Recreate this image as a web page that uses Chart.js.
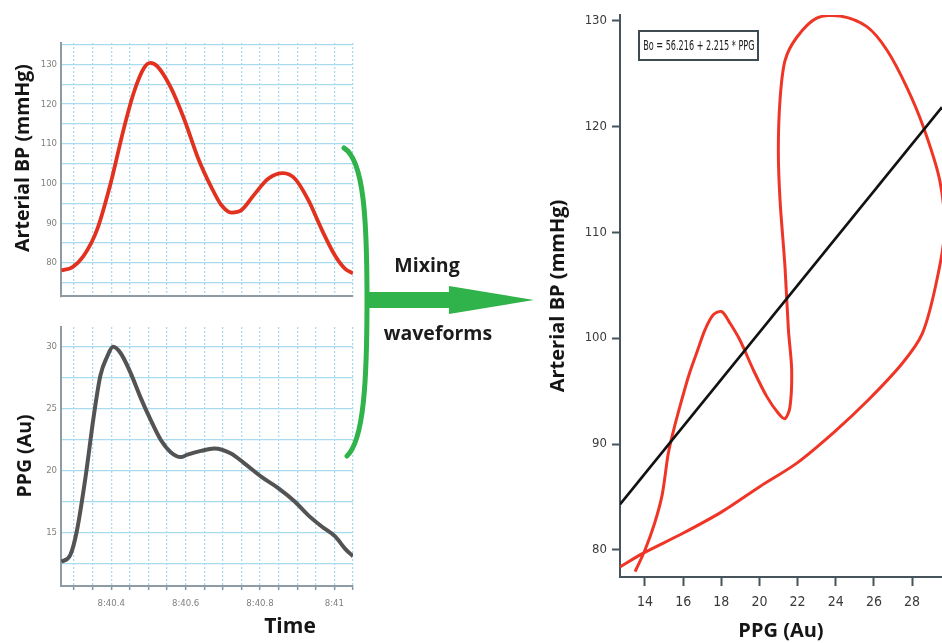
<!DOCTYPE html>
<html><head><meta charset="utf-8">
<script src="https://cdn.jsdelivr.net/npm/chart.js@4.4.1/dist/chart.umd.min.js"></script>
<style>
html,body{margin:0;padding:0;background:#fff;}
#stage{position:relative;width:942px;height:643px;overflow:hidden;background:#fff;}
canvas{position:absolute;}
.t{position:absolute;font-family:'Open Sans',sans-serif;font-weight:700;color:#151515;white-space:nowrap;line-height:1;}
.rot{transform:translate(-50%,-50%) rotate(-90deg);}
.ctr{transform:translate(-50%,-50%);}
#eq{position:absolute;left:638px;top:30px;width:117px;height:27px;border:2px solid #3e4b50;font-family:'Liberation Sans Narrow','DejaVu Sans Condensed','Arial Narrow',sans-serif;font-size:11px;color:#222;display:flex;align-items:center;justify-content:center;white-space:nowrap;overflow:visible;}
#eq span{display:inline-block;transform:scale(0.82,1.35);}
</style></head><body>
<div id="stage">
<canvas id="cBP" width="362" height="276" style="left:0;top:30px"></canvas>
<canvas id="cPPG" width="362" height="333" style="left:0;top:310px"></canvas>
<canvas id="cLoop" width="402" height="643" style="left:540px;top:0"></canvas>
<svg width="942" height="643" style="position:absolute;left:0;top:0">
  <path d="M 344 148 C 364 160, 367 220, 367 300 C 367 380, 364 440, 347 456" fill="none" stroke="#2fb34a" stroke-width="5" stroke-linecap="round"/>
  <polygon points="367,292 449,292 449,286 534,300 449,314 449,308 367,308" fill="#2fb34a"/>
</svg>
<div class="t rot" style="left:22px;top:158px;font-size:19.5px;">Arterial BP (mmHg)</div>
<div class="t rot" style="left:24px;top:456px;font-size:19.5px;">PPG (Au)</div>
<div class="t ctr" style="left:290px;top:625px;font-size:21px;">Time</div>
<div class="t ctr" style="left:427px;top:265px;font-size:19.5px;color:#1c1c1c;">Mixing</div>
<div class="t ctr" style="left:438px;top:333px;font-size:19.5px;color:#1c1c1c;">waveforms</div>
<div id="eq"><span>Bo = 56.216 + 2.215 * PPG</span></div>
</div>
<script>
// ---- Data ----
const timeBP = [40.266, 40.295, 40.326, 40.362, 40.398, 40.434, 40.461, 40.488, 40.505, 40.524, 40.56, 40.597, 40.633, 40.669, 40.696, 40.723, 40.75, 40.786, 40.822, 40.862, 40.894, 40.93, 40.966, 41.002, 41.029, 41.05];
const bpValues = [78.1, 78.9, 81.8, 88.4, 99.9, 113.9, 123.0, 129.1, 130.4, 129.5, 124.2, 116.0, 106.5, 99.1, 94.6, 92.7, 93.3, 97.4, 101.2, 102.6, 101.2, 95.8, 88.4, 81.8, 78.5, 77.4];

const timePPG = [40.266, 40.29, 40.308, 40.331, 40.353, 40.371, 40.389, 40.405, 40.425, 40.452, 40.479, 40.506, 40.533, 40.56, 40.587, 40.605, 40.641, 40.677, 40.722, 40.758, 40.804, 40.849, 40.894, 40.93, 40.966, 41.002, 41.029, 41.05];
const ppgValues = [12.65, 13.2, 15.2, 19.5, 24.4, 27.7, 29.2, 30.0, 29.5, 27.9, 25.9, 24.1, 22.5, 21.5, 21.1, 21.3, 21.6, 21.8, 21.4, 20.6, 19.5, 18.6, 17.5, 16.4, 15.5, 14.7, 13.7, 13.1];

const loopPPG = [12.69, 13.91, 16.01, 18.02, 20.03, 21.96, 23.96, 25.73, 27.48, 28.53, 29.22, 29.7, 29.45, 28.6, 27.72, 26.68, 25.63, 24.23, 23.0, 21.96, 21.34, 21.08, 20.99, 21.08, 21.34, 21.52, 21.69, 21.6, 21.34, 20.99, 20.38, 19.68, 18.98, 18.46, 18.02, 17.58, 17.15, 16.75, 16.3, 15.9, 15.5, 15.22, 14.9, 14.5, 14.0, 13.48];
const loopBP = [78.4, 79.7, 81.6, 83.6, 86.0, 88.2, 91.2, 94.2, 97.6, 100.4, 104.8, 110.0, 114.9, 119.9, 123.7, 127.2, 129.4, 130.4, 130.2, 128.4, 126.2, 122.5, 117.7, 113.0, 106.7, 100.75, 97.0, 93.5, 92.4, 92.9, 94.5, 97.0, 99.8, 101.4, 102.5, 102.2, 100.8, 98.8, 96.5, 94.0, 91.3, 89.1, 85.2, 82.5, 80.0, 77.95];

const fitPPG = [12.69, 29.57];
const fitBP = [84.3, 121.8];

// tick labels / grid positions
const timeGrid = [40.3, 40.35, 40.4, 40.45, 40.5, 40.55, 40.6, 40.65, 40.7, 40.75, 40.8, 40.85, 40.9, 40.95, 41.0, 41.05];
const timeTickValues = [40.4, 40.6, 40.8, 41.0];
const timeTickLabels = ['8:40.4', '8:40.6', '8:40.8', '8:41'];
const bpGrid = [75, 80, 85, 90, 95, 100, 105, 110, 115, 120, 125, 130, 135];
const bpTickValues = [80, 90, 100, 110, 120, 130];
const bpTickLabels = ['80', '90', '100', '110', '120', '130'];
const ppgGrid = [12.5, 15, 17.5, 20, 22.5, 25, 27.5, 30];
const ppgTickValues = [15, 20, 25, 30];
const ppgTickLabels = ['15', '20', '25', '30'];
const loopXTicks = [14, 16, 18, 20, 22, 24, 26, 28];
const loopXLabels = ['14', '16', '18', '20', '22', '24', '26', '28'];
const loopYTicks = [80, 90, 100, 110, 120, 130];
const loopYLabels = ['80', '90', '100', '110', '120', '130'];

// ---- helpers ----
const NARROW = "'Liberation Sans Narrow','DejaVu Sans Condensed','Arial Narrow',sans-serif";
const pts = (xs, ys) => xs.map((x, i) => ({x: x, y: ys[i]}));
const setTicks = arr => s => { s.ticks = arr.map(v => ({value: v})); };
const labelFrom = (vals, labels) => v => {
  const i = vals.findIndex(a => Math.abs(a - v) < 1e-6);
  return i >= 0 ? labels[i] : '';
};
const GRID = '#a9dbee';
const AXIS = '#8d9ca4';
const common = {
  responsive: false, animation: false, events: [], devicePixelRatio: 1,
  plugins: {legend: {display: false}, tooltip: {enabled: false}}
};

// ---- Arterial BP waveform ----
new Chart(document.getElementById('cBP'), {
  type: 'line',
  data: {datasets: [{data: pts(timeBP, bpValues), borderColor: '#e2321f', borderWidth: 3.8,
    pointRadius: 0, cubicInterpolationMode: 'monotone', fill: false}]},
  options: Object.assign({}, common, {
    layout: {padding: {left: 0, top: 13, right: 9, bottom: 0}},
    scales: {
      x: {type: 'linear', min: 40.265, max: 41.05, afterBuildTicks: setTicks(timeGrid),
        afterFit: s => { s.height = 5; },
        ticks: {display: false},
        grid: {color: GRID, lineWidth: 1.3, drawTicks: false},
        border: {display: true, color: AXIS, width: 2, dash: [2, 2]}},
      y: {type: 'linear', min: 71.6, max: 135.4, afterBuildTicks: setTicks(bpGrid),
        afterFit: s => { s.width = 61; },
        ticks: {callback: labelFrom(bpTickValues, bpTickLabels), color: '#808080', padding: 4,
          font: {family: NARROW, size: 9.5}},
        grid: {color: GRID, lineWidth: 1.3, drawTicks: false},
        border: {display: true, color: AXIS, width: 2}}
    }
  })
});

// ---- PPG waveform ----
new Chart(document.getElementById('cPPG'), {
  type: 'line',
  data: {datasets: [{data: pts(timePPG, ppgValues), borderColor: '#535353', borderWidth: 4,
    pointRadius: 0, cubicInterpolationMode: 'monotone', fill: false}]},
  options: Object.assign({}, common, {
    layout: {padding: {left: 0, top: 17, right: 9, bottom: 0}},
    scales: {
      x: {type: 'linear', min: 40.265, max: 41.05, afterBuildTicks: setTicks(timeGrid),
        afterFit: s => { s.height = 57; },
        ticks: {callback: labelFrom(timeTickValues, timeTickLabels), color: '#808080', padding: 8,
          maxRotation: 0, autoSkip: false, font: {family: NARROW, size: 9.5}},
        grid: {color: GRID, lineWidth: 1.3, drawTicks: true, tickLength: 4, tickColor: '#7f98a6', tickWidth: 1.5},
        border: {display: true, color: AXIS, width: 2, dash: [2, 2]}},
      y: {type: 'linear', min: 10.7, max: 31.6, afterBuildTicks: setTicks(ppgGrid),
        afterFit: s => { s.width = 61; },
        ticks: {callback: labelFrom(ppgTickValues, ppgTickLabels), color: '#808080', padding: 4,
          font: {family: NARROW, size: 9.5}},
        grid: {color: GRID, lineWidth: 1.3, drawTicks: false},
        border: {display: true, color: AXIS, width: 2}}
    }
  })
});

// ---- BP vs PPG loop with linear fit ----
const AX2 = '#46555b';
new Chart(document.getElementById('cLoop'), {
  type: 'scatter',
  data: {datasets: [
    {data: pts(fitPPG, fitBP), showLine: true, borderColor: '#121212', borderWidth: 2.6, pointRadius: 0, tension: 0},
    {data: pts(loopPPG, loopBP), showLine: true, borderColor: '#ef3526', borderWidth: 3, pointRadius: 0, tension: 0.3}
  ]},
  options: Object.assign({}, common, {
    layout: {padding: {left: 0, top: 15, right: 0, bottom: 0}},
    scales: {
      x: {type: 'linear', min: 12.69, max: 29.57, afterBuildTicks: setTicks(loopXTicks),
        afterFit: s => { s.height = 66; },
        ticks: {callback: labelFrom(loopXTicks, loopXLabels), color: '#3a3a3a', padding: 8,
          maxRotation: 0, autoSkip: false, font: {family: NARROW, size: 14}},
        grid: {drawOnChartArea: false, drawTicks: true, tickLength: 9, tickColor: AX2, tickWidth: 2},
        border: {display: true, color: AX2, width: 2},
        title: {display: true, text: 'PPG (Au)', color: '#151515', padding: {top: 0, bottom: 0},
          font: {family: "'Open Sans',sans-serif", size: 20, weight: 'bold'}}},
      y: {type: 'linear', min: 77.45, max: 130.5, afterBuildTicks: setTicks(loopYTicks),
        afterFit: s => { s.width = 80; },
        ticks: {callback: labelFrom(loopYTicks, loopYLabels), color: '#3a3a3a', padding: 5,
          font: {family: NARROW, size: 13}},
        grid: {drawOnChartArea: false, drawTicks: true, tickLength: 8, tickColor: AX2, tickWidth: 2},
        border: {display: true, color: AX2, width: 2},
        title: {display: true, text: 'Arterial BP (mmHg)', color: '#151515', padding: 6,
          font: {family: "'Open Sans',sans-serif", size: 20, weight: 'bold'}}}
    }
  })
});
</script>
</body></html>
